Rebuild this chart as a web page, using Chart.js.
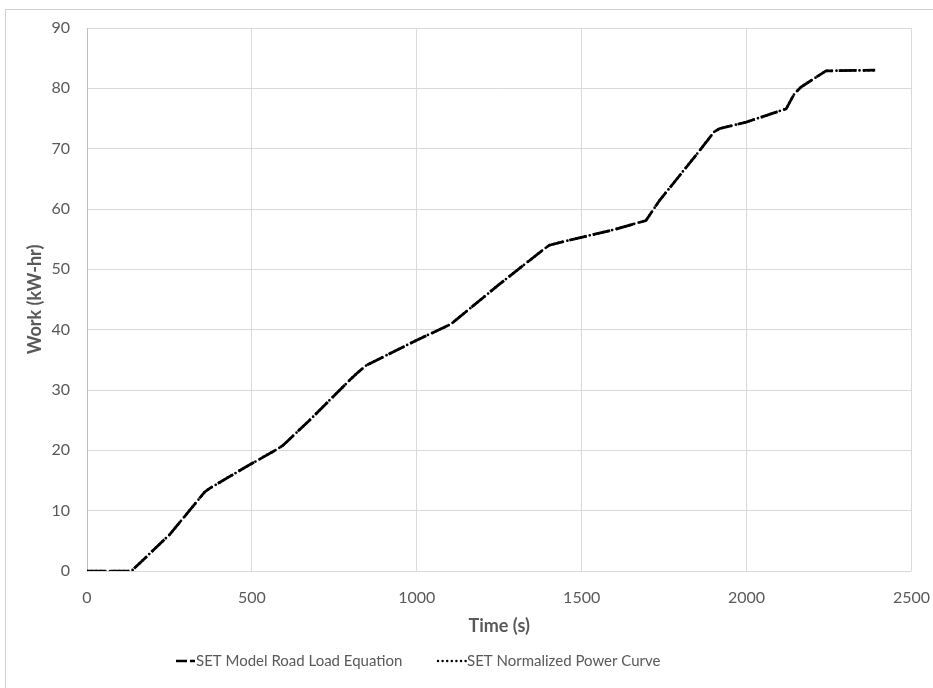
<!DOCTYPE html>
<html>
<head>
<meta charset="utf-8">
<script src="https://cdn.jsdelivr.net/npm/chart.js@4"></script>
<style>
  html, body { margin: 0; padding: 0; background: #fff; }
  #wrap { width: 933px; height: 688px; }
</style>
</head>
<body>
<div id="wrap"><canvas id="workChart" width="933" height="688"></canvas></div>
<script>
// values
const timeSec = [0, 135, 250, 336, 357, 372, 480, 574, 594, 675, 796, 817, 847, 998, 1103, 1250, 1382, 1402, 1483, 1600, 1695, 1736, 1842, 1902, 1917, 1999, 2120, 2145, 2165, 2221, 2241, 2390];
const roadLoadWork = [0, 0, 6.0, 11.7, 13.1, 13.7, 17.2, 20.1, 20.8, 25.0, 31.6, 32.7, 34.1, 38.2, 40.9, 47.5, 53.2, 54.0, 55.1, 56.6, 58.1, 61.4, 68.6, 72.8, 73.3, 74.4, 76.6, 79.1, 80.2, 82.2, 82.9, 83.0];
const powerCurveWork = [0, 0, 6.0, 11.7, 13.1, 13.7, 17.2, 20.1, 20.8, 25.0, 31.6, 32.7, 34.1, 38.2, 40.9, 47.5, 53.2, 54.0, 55.1, 56.6, 58.1, 61.4, 68.6, 72.8, 73.3, 74.4, 76.6, 79.1, 80.2, 82.2, 82.9, 83.0];
const seriesNames = ['SET Model Road Load Equation', 'SET Normalized Power Curve'];
const xTicks = [0, 500, 1000, 1500, 2000, 2500];
const yTicks = [0, 10, 20, 30, 40, 50, 60, 70, 80, 90];

const textGrey = '#595959';
const gridGrey = '#d9d9d9';
const fontFam = 'Lato, "Open Sans", sans-serif';

function toPoints(xs, ys) {
  return xs.map((x, i) => ({ x: x, y: ys[i] }));
}

// outer chart frame like the spreadsheet chart area
const frame = {
  id: 'frame',
  beforeDraw(chart) {
    const ctx = chart.ctx;
    ctx.save();
    ctx.strokeStyle = '#d0d0d0';
    ctx.lineWidth = 1;
    ctx.strokeRect(5.5, 9.5, 1000, 1000);
    ctx.restore();
  }
};

// legend row drawn under the axis title
const bottomLegend = {
  id: 'bottomLegend',
  afterDraw(chart) {
    const ctx = chart.ctx;
    const y = 661;
    const items = [
      { x0: 176, x1: 195, dash: [11, 3, 5, 200], cap: 'butt', text: seriesNames[0] },
      { x0: 438, x1: 466, dash: [0, 4.6], cap: 'round', text: seriesNames[1] }
    ];
    ctx.save();
    items.forEach(it => {
      ctx.beginPath();
      ctx.setLineDash(it.dash);
      ctx.lineCap = it.cap;
      ctx.lineWidth = 2.5;
      ctx.strokeStyle = '#000';
      ctx.moveTo(it.x0, y);
      ctx.lineTo(it.x1, y);
      ctx.stroke();
      ctx.setLineDash([]);
      ctx.font = '15px ' + fontFam;
      ctx.fillStyle = textGrey;
      ctx.textBaseline = 'middle';
      ctx.textAlign = 'left';
      ctx.fillText(it.text, it.x1 + 1, y);
    });
    ctx.restore();
  }
};

const ctx = document.getElementById('workChart');
new Chart(ctx, {
  type: 'line',
  data: {
    datasets: [{
      label: seriesNames[0],
      data: toPoints(timeSec, roadLoadWork),
      borderColor: '#000',
      borderWidth: 2.75,
      borderDash: [18, 6],
      borderCapStyle: 'butt',
      pointRadius: 0,
      tension: 0,
      fill: false
    }, {
      label: seriesNames[1],
      data: toPoints(timeSec, powerCurveWork),
      borderColor: '#000',
      borderWidth: 2.75,
      borderDash: [0, 4.6],
      borderCapStyle: 'round',
      pointRadius: 0,
      tension: 0,
      fill: false
    }]
  },
  options: {
    responsive: false,
    animation: false,
    layout: { padding: { top: 28, right: 0, bottom: 51, left: 0 } },
    plugins: {
      legend: { display: false },
      tooltip: { enabled: false }
    },
    scales: {
      x: {
        type: 'linear',
        min: 0,
        max: 2500,
        afterBuildTicks: (scale) => { scale.ticks = xTicks.map(v => ({ value: v })); },
        afterFit: (scale) => { scale.height = 66; },
        grid: { color: gridGrey, drawTicks: true, tickLength: 14, tickColor: 'rgba(0,0,0,0)' },
        border: { display: false },
        ticks: { color: textGrey, font: { family: fontFam, size: 16 }, padding: 3, maxRotation: 0, callback: (v) => String(v) },
        title: {
          display: true,
          text: 'Time (s)',
          color: textGrey,
          font: { family: fontFam, size: 18, weight: 'bold' },
          padding: { top: 0, bottom: 0 }
        }
      },
      y: {
        min: 0,
        max: 90,
        afterBuildTicks: (scale) => { scale.ticks = yTicks.map(v => ({ value: v })); },
        afterFit: (scale) => { scale.width = 87; },
        grid: { color: gridGrey, drawTicks: false },
        border: { display: true, color: '#bfbfbf' },
        ticks: { color: textGrey, font: { family: fontFam, size: 16 }, padding: 17, callback: (v) => String(v) },
        title: {
          display: true,
          text: 'Work (kW-hr)',
          color: textGrey,
          font: { family: fontFam, size: 18, weight: 'bold' },
          padding: { top: 24, bottom: 0 }
        }
      }
    }
  },
  plugins: [frame, bottomLegend]
});
</script>
</body>
</html>
